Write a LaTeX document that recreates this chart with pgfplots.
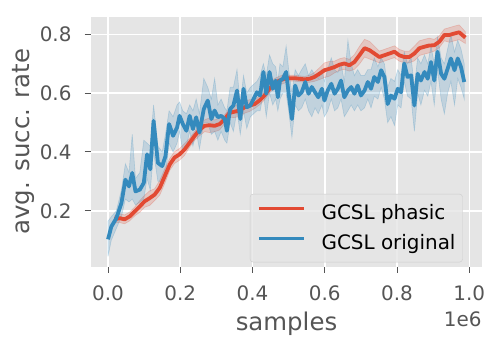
\documentclass[border=0pt]{standalone}
\usepackage{fontspec}
\setmainfont{DejaVu Sans}
\usepackage{pgfplots}
\usepackage{pgfplotstable}
\pgfplotsset{compat=1.18}
\usepgfplotslibrary{fillbetween}
\definecolor{ggred}{HTML}{E24A33}
\definecolor{ggblue}{HTML}{348ABD}
\definecolor{ggbg}{HTML}{E5E5E5}
\definecolor{ggtext}{HTML}{555555}
\definecolor{ggedge}{HTML}{CCCCCC}

% GCSL phasic: mean and band
\pgfplotstableread{
x m lo hi
0.018 0.171 0.159 0.183
0.032 0.175 0.160 0.190
0.046 0.171 0.156 0.186
0.060 0.181 0.166 0.196
0.074 0.198 0.183 0.213
0.088 0.215 0.195 0.235
0.101 0.232 0.212 0.252
0.115 0.243 0.218 0.268
0.129 0.255 0.235 0.275
0.143 0.278 0.253 0.303
0.157 0.318 0.293 0.343
0.171 0.358 0.338 0.378
0.184 0.381 0.361 0.401
0.198 0.392 0.372 0.412
0.212 0.409 0.389 0.429
0.226 0.432 0.417 0.447
0.240 0.455 0.440 0.470
0.253 0.475 0.455 0.495
0.267 0.489 0.469 0.509
0.281 0.491 0.466 0.516
0.295 0.489 0.469 0.509
0.309 0.495 0.475 0.515
0.323 0.512 0.497 0.527
0.336 0.533 0.518 0.548
0.350 0.537 0.517 0.557
0.364 0.541 0.521 0.561
0.378 0.552 0.532 0.572
0.392 0.558 0.538 0.578
0.406 0.563 0.548 0.578
0.419 0.575 0.560 0.590
0.433 0.592 0.577 0.607
0.447 0.615 0.600 0.630
0.461 0.635 0.620 0.650
0.475 0.643 0.628 0.658
0.488 0.649 0.634 0.664
0.502 0.651 0.641 0.661
0.516 0.651 0.641 0.661
0.530 0.649 0.639 0.659
0.544 0.647 0.637 0.657
0.558 0.649 0.637 0.661
0.571 0.655 0.640 0.670
0.585 0.666 0.646 0.686
0.599 0.678 0.653 0.703
0.613 0.683 0.658 0.708
0.627 0.689 0.669 0.709
0.641 0.697 0.677 0.717
0.654 0.701 0.681 0.721
0.668 0.695 0.675 0.715
0.682 0.706 0.681 0.731
0.696 0.729 0.699 0.759
0.710 0.753 0.723 0.783
0.724 0.746 0.716 0.776
0.737 0.735 0.710 0.760
0.751 0.723 0.703 0.743
0.765 0.729 0.709 0.749
0.779 0.735 0.715 0.755
0.793 0.741 0.721 0.761
0.806 0.729 0.709 0.749
0.820 0.723 0.703 0.743
0.834 0.723 0.703 0.743
0.848 0.735 0.710 0.760
0.862 0.753 0.728 0.778
0.876 0.758 0.733 0.783
0.889 0.762 0.737 0.787
0.903 0.763 0.743 0.783
0.917 0.775 0.755 0.795
0.931 0.798 0.778 0.818
0.945 0.798 0.773 0.823
0.959 0.803 0.778 0.828
0.972 0.807 0.782 0.832
0.989 0.789 0.769 0.809
}\phasic

% GCSL original: mean and band
\pgfplotstableread{
x m lo hi
0.000 0.103 0.045 0.165
0.009 0.146 0.100 0.180
0.023 0.175 0.140 0.200
0.037 0.226 0.180 0.270
0.048 0.306 0.240 0.360
0.058 0.283 0.230 0.330
0.067 0.329 0.240 0.460
0.076 0.266 0.220 0.310
0.088 0.272 0.230 0.330
0.099 0.295 0.240 0.440
0.108 0.392 0.310 0.430
0.117 0.341 0.270 0.420
0.126 0.506 0.400 0.560
0.138 0.363 0.300 0.420
0.150 0.352 0.300 0.400
0.159 0.386 0.320 0.460
0.169 0.495 0.430 0.540
0.180 0.455 0.400 0.520
0.191 0.483 0.430 0.560
0.198 0.523 0.470 0.570
0.207 0.495 0.400 0.540
0.217 0.472 0.420 0.530
0.226 0.523 0.470 0.560
0.235 0.478 0.420 0.540
0.244 0.518 0.470 0.580
0.253 0.466 0.410 0.530
0.265 0.546 0.500 0.650
0.276 0.575 0.500 0.620
0.286 0.512 0.460 0.580
0.295 0.541 0.470 0.650
0.304 0.518 0.440 0.560
0.313 0.523 0.470 0.580
0.323 0.512 0.440 0.550
0.329 0.472 0.430 0.540
0.338 0.546 0.500 0.620
0.347 0.558 0.470 0.620
0.357 0.609 0.540 0.680
0.366 0.512 0.460 0.560
0.375 0.615 0.540 0.660
0.384 0.552 0.480 0.600
0.394 0.558 0.520 0.620
0.403 0.581 0.530 0.630
0.412 0.603 0.540 0.640
0.421 0.592 0.540 0.660
0.430 0.672 0.600 0.700
0.438 0.598 0.520 0.660
0.447 0.672 0.600 0.730
0.456 0.615 0.560 0.700
0.464 0.643 0.580 0.690
0.470 0.586 0.540 0.640
0.476 0.643 0.580 0.700
0.484 0.649 0.600 0.690
0.493 0.672 0.600 0.760
0.500 0.598 0.540 0.680
0.509 0.512 0.450 0.600
0.518 0.626 0.560 0.680
0.527 0.592 0.540 0.660
0.536 0.603 0.550 0.680
0.546 0.638 0.580 0.700
0.555 0.598 0.540 0.660
0.564 0.621 0.520 0.680
0.573 0.603 0.550 0.660
0.582 0.586 0.530 0.650
0.592 0.615 0.560 0.680
0.599 0.575 0.520 0.640
0.608 0.609 0.540 0.680
0.618 0.632 0.580 0.720
0.627 0.598 0.540 0.680
0.636 0.615 0.550 0.670
0.645 0.643 0.580 0.700
0.654 0.586 0.520 0.640
0.664 0.609 0.540 0.780
0.673 0.621 0.560 0.700
0.682 0.598 0.540 0.660
0.691 0.626 0.560 0.680
0.700 0.592 0.540 0.660
0.710 0.609 0.550 0.660
0.719 0.638 0.580 0.680
0.728 0.615 0.550 0.680
0.737 0.655 0.590 0.720
0.747 0.638 0.580 0.690
0.756 0.678 0.620 0.720
0.765 0.655 0.580 0.700
0.774 0.563 0.500 0.620
0.783 0.592 0.520 0.650
0.793 0.581 0.490 0.640
0.802 0.615 0.560 0.680
0.811 0.603 0.550 0.660
0.820 0.701 0.640 0.740
0.829 0.655 0.590 0.700
0.839 0.661 0.580 0.720
0.848 0.558 0.470 0.620
0.857 0.666 0.600 0.720
0.866 0.643 0.560 0.700
0.876 0.672 0.610 0.730
0.885 0.649 0.590 0.700
0.894 0.706 0.640 0.760
0.903 0.643 0.560 0.700
0.912 0.741 0.680 0.790
0.922 0.666 0.580 0.720
0.931 0.649 0.530 0.700
0.940 0.683 0.600 0.750
0.949 0.718 0.640 0.800
0.959 0.678 0.560 0.740
0.968 0.718 0.650 0.780
0.977 0.689 0.620 0.750
0.986 0.638 0.580 0.700
}\original

\begin{document}
\begin{tikzpicture}
\begin{axis}[
  at={(0,0)}, anchor=south west,
  scale only axis, width=391.6bp, height=250bp,
  xmin=-0.048, xmax=1.036, ymin=0.01, ymax=0.86,
  clip=false,
  xtick={0,0.2,0.4,0.6,0.8,1.0},
  xticklabels={0.0,0.2,0.4,0.6,0.8,1.0},
  ytick={0.2,0.4,0.6,0.8},
  yticklabels={0.2,0.4,0.6,0.8},
  axis background/.style={fill=ggbg},
  axis line style={draw=none},
  grid=major, major grid style={white, line width=1.6bp},
  tick align=outside, tick pos=left,
  major tick length=6bp,
  tick style={ggtext, line width=1bp},
  xticklabel style={font=\fontsize{20}{24}\selectfont, text=ggtext,
    anchor=base, inner sep=0pt, yshift=-28bp},
  yticklabel style={font=\fontsize{20}{24}\selectfont, text=ggtext,
    anchor=east, inner sep=0pt, xshift=-13bp},
  xlabel={samples},
  xlabel style={at={(axis description cs:0.5,-0.2572)}, anchor=base,
    inner sep=0pt, font=\fontsize{24.5}{29}\selectfont, text=ggtext},
  ylabel={avg. succ. rate},
  ylabel style={at={(axis description cs:-0.1721,0.5)}, anchor=center,
    inner sep=0pt, font=\fontsize{24.5}{29}\selectfont, text=ggtext},
  legend cell align=left,
  legend image code/.code={\draw[#1] (0bp,4.5bp) -- (45bp,4.5bp);},
  legend style={at={(axis description cs:1,0)}, anchor=south east,
    xshift=-19.6bp, yshift=4.4bp,
    fill=ggbg, fill opacity=0.8, text opacity=1,
    draw=ggedge, rounded corners=3bp,
    inner xsep=7bp, inner ysep=8bp,
    font=\fontsize{20}{24}\selectfont, text=black,
    row sep=8bp, column sep=15.7bp,
    nodes={inner sep=0pt, text height=17bp, text depth=5bp}},
]
  % phasic band and mean
  \addplot[draw=none, name path=phi, forget plot] table[x=x, y=hi] {\phasic};
  \addplot[draw=none, name path=plo, forget plot] table[x=x, y=lo] {\phasic};
  \addplot[fill=ggred, fill opacity=0.2, draw=ggred, draw opacity=0.25,
    line width=0.6bp, forget plot] fill between[of=phi and plo];
  \addplot[ggred, line width=3.8bp, line join=round] table[x=x, y=m] {\phasic};
  \addlegendentry{GCSL phasic}

  % original band and mean
  \addplot[draw=none, name path=ohi, forget plot] table[x=x, y=hi] {\original};
  \addplot[draw=none, name path=olo, forget plot] table[x=x, y=lo] {\original};
  \addplot[fill=ggblue, fill opacity=0.2, draw=ggblue, draw opacity=0.25,
    line width=0.6bp, forget plot] fill between[of=ohi and olo];
  \addplot[ggblue, line width=3.8bp, line join=round] table[x=x, y=m] {\original};
  \addlegendentry{GCSL original}

  \node[anchor=base east, inner sep=0pt, font=\fontsize{20}{24}\selectfont,
    text=ggtext] at (axis description cs:0.9985,-0.24) {1e6};
\end{axis}
\pgfresetboundingbox
\useasboundingbox (-90.7bp,-74.3bp) rectangle (408.3bp,266.7bp);
\end{tikzpicture}
\end{document}
